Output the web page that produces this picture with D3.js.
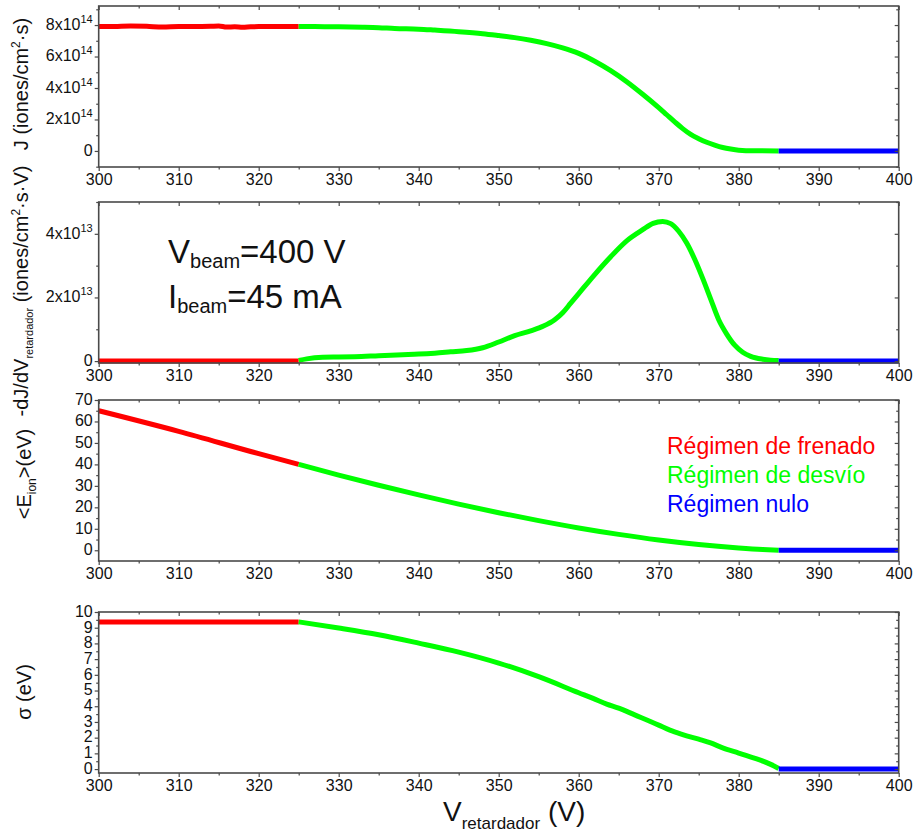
<!DOCTYPE html>
<html>
<head>
<meta charset="utf-8">
<script src="https://cdn.jsdelivr.net/npm/d3@7"></script>
<style>
  html, body { margin: 0; padding: 0; background: #fff; }
  svg { display: block; font-family: "Liberation Sans", Arial, Helvetica, sans-serif; }
</style>
</head>
<body>
<svg id="chart" width="918" height="834"></svg>
<script>
// ---- Shared x axis (retarding voltage, V) ----
const xMajorTicks = [300, 310, 320, 330, 340, 350, 360, 370, 380, 390, 400];
const xMinorTicks = [305, 315, 325, 335, 345, 355, 365, 375, 385, 395];

// ---- Panel 1: ion current density J (units of 1e14 iones/cm^2·s) ----
const jFrenado = [[300,7.9],[302,7.91],[304,7.94],[306,7.92],[308,7.87],[310,7.9],[312,7.9],[314,7.92],[315,7.94],[316,7.87],[317,7.89],[318,7.86],[319,7.89],[320,7.9],[322,7.9],[325,7.91]];
const jDesvio = [[325,7.91],[327,7.9],[330,7.89],[333,7.86],[335,7.83],[337,7.78],[340,7.74],[342,7.68],[345,7.58],[348,7.45],[350,7.33],[352,7.2],[354,7.03],[356,6.82],[358,6.55],[360,6.2],[362,5.7],[364,5.1],[366,4.4],[368,3.6],[370,2.75],[371,2.3],[372,1.85],[373,1.42],[374,1.05],[375,0.78],[376,0.55],[377,0.37],[378,0.22],[379,0.12],[380,0.05],[382,0.01],[385,0]];
const jNulo = [[385,0],[400,0]];
const jTicks = [0, 2, 4, 6, 8];
const jMinor = [-1, 1, 3, 5, 7, 9];

// ---- Panel 2: -dJ/dV (units of 1e13 iones/cm^2·s·V) ----
const dFrenado = [[300,0],[325,0]];
const dDesvio = [[325,0.02],[326,0.07],[328,0.12],[330,0.13],[332,0.14],[335,0.17],[338,0.2],[340,0.22],[342,0.25],[344,0.29],[346,0.33],[348,0.42],[350,0.6],[352,0.8],[354,0.95],[355.6,1.1],[357,1.3],[358,1.52],[359,1.82],[360,2.12],[362,2.72],[364,3.28],[366,3.78],[368,4.13],[369.3,4.33],[370.5,4.39],[371.5,4.32],[372.5,4.08],[373.5,3.71],[374.5,3.2],[375.5,2.6],[376.5,1.95],[377.5,1.3],[378.5,0.85],[379.5,0.5],[380.5,0.28],[381.5,0.15],[383,0.06],[384,0.03],[385,0.02]];
const dNulo = [[385,0],[400,0]];
const dTicks = [0, 2, 4];
const dMinor = [1, 3, 5];

// ---- Panel 3: mean ion energy <E_ion> (eV) ----
const eFrenado = [[300,65],[310,55.4],[320,45],[325,40]];
const eDesvio = [[325,40],[330,35],[335,30.3],[340,25.8],[345,21.5],[350,17.5],[355,13.8],[360,10.4],[365,7.4],[370,4.8],[375,2.7],[380,1.1],[383,0.35],[385,0]];
const eNulo = [[385,0],[400,0]];
const eTicks = [0, 10, 20, 30, 40, 50, 60, 70];
const eMinor = [5, 15, 25, 35, 45, 55, 65];

// ---- Panel 4: energy spread sigma (eV) ----
const sFrenado = [[300,9.37],[325,9.37]];
const sDesvio = [[325,9.37],[330,8.98],[335,8.55],[340,8.02],[345,7.45],[350,6.75],[355,5.88],[360,4.86],[361.8,4.5],[363.5,4.14],[365,3.88],[367,3.45],[370,2.8],[371.4,2.48],[373,2.2],[375,1.9],[376.4,1.68],[378,1.35],[380,1.02],[381,0.85],[382.7,0.57],[384,0.3],[385,0.04]];
const sNulo = [[385,0],[400,0]];
const sTicks = [0, 1, 2, 3, 4, 5, 6, 7, 8, 9, 10];
const sMinor = [0.5, 1.5, 2.5, 3.5, 4.5, 5.5, 6.5, 7.5, 8.5, 9.5];

// ---- Regime names and colours ----
const regimes = ["Régimen de frenado", "Régimen de desvío", "Régimen nulo"];
const regimeColors = ["#ff0000", "#00ff00", "#0000ff"];

const svg = d3.select("#chart");
const x = d3.scaleLinear().domain([300, 400]).range([98.7, 898.7]);
const axisColor = "#4a4a4a";

const panels = [
  { top: 6,   bottom: 167, domain: [-1.02, 9.21], ticks: jTicks, minor: jMinor, exp: "14",
    series: [jFrenado, jDesvio, jNulo], curve: d3.curveMonotoneX,
    titleX: 28, titleY: 84,
    title: [{t: "J (iones/cm"}, {t: "2", size: 12, dy: -8}, {t: "·s)", dy: 8}] },
  { top: 202, bottom: 363, domain: [-0.06, 5.0], ticks: dTicks, minor: dMinor, exp: "13",
    series: [dFrenado, dDesvio, dNulo], curve: d3.curveMonotoneX,
    titleX: 28, titleY: 291,
    title: [{t: "-dJ/dV"}, {t: "retardador", size: 11, dy: 5}, {t: " (iones/cm", dy: -5}, {t: "2", size: 12, dy: -8}, {t: "·s·V)", dy: 8}] },
  { top: 400, bottom: 561, domain: [-5, 70], ticks: eTicks, minor: eMinor, exp: null,
    series: [eFrenado, eDesvio, eNulo], curve: d3.curveMonotoneX,
    titleX: 31, titleY: 474,
    title: [{t: "<E"}, {t: "ion", size: 12, dy: 5}, {t: ">(eV)", dy: -5}] },
  { top: 612, bottom: 773, domain: [-0.25, 10], ticks: sTicks, minor: sMinor, exp: null,
    series: [sFrenado, sDesvio, sNulo], curve: d3.curveMonotoneX,
    titleX: 31, titleY: 692,
    title: [{t: "σ (eV)"}] }
];

// Append a text element built from styled pieces (sub/superscripts via dy)
function richText(sel, parts, baseSize) {
  parts.forEach(p => {
    const ts = sel.append("tspan").text(p.t).attr("font-size", p.size || baseSize);
    if (p.dy) ts.attr("dy", p.dy);
  });
  return sel;
}

panels.forEach(p => {
  const y = d3.scaleLinear().domain(p.domain).range([p.bottom, p.top]);
  const g = svg.append("g");

  // data lines, one colour per regime
  const line = d3.line().x(d => x(d[0])).y(d => y(d[1])).curve(p.curve);
  p.series.forEach((s, i) => {
    g.append("path")
      .datum(s)
      .attr("d", line)
      .attr("fill", "none")
      .attr("stroke", regimeColors[i])
      .attr("stroke-width", 5)
      .attr("stroke-linejoin", "round");
  });

  // bottom axis: outward major + minor ticks and labels
  const bottomAx = g.append("g").attr("transform", `translate(0,${p.bottom})`)
    .call(d3.axisBottom(x).tickValues(xMajorTicks).tickSize(4).tickSizeOuter(0).tickPadding(3).tickFormat(d3.format("d")));
  g.append("g").attr("transform", `translate(0,${p.bottom})`)
    .call(d3.axisBottom(x).tickValues(xMinorTicks).tickSize(2.5).tickSizeOuter(0).tickFormat(""));
  bottomAx.selectAll("text").attr("font-size", 16).attr("fill", "#111").attr("font-family", "Liberation Sans, Arial, sans-serif");

  // top axis: inward ticks
  g.append("g").attr("transform", `translate(0,${p.top})`)
    .call(d3.axisTop(x).tickValues(xMajorTicks).tickSize(-4).tickSizeOuter(0).tickFormat(""));
  g.append("g").attr("transform", `translate(0,${p.top})`)
    .call(d3.axisTop(x).tickValues(xMinorTicks).tickSize(-2.5).tickSizeOuter(0).tickFormat(""));

  // left axis: outward ticks, custom labels
  g.append("g").attr("transform", `translate(${x.range()[0]},0)`)
    .call(d3.axisLeft(y).tickValues(p.ticks).tickSize(4).tickSizeOuter(0).tickFormat(""));
  g.append("g").attr("transform", `translate(${x.range()[0]},0)`)
    .call(d3.axisLeft(y).tickValues(p.minor).tickSize(2.5).tickSizeOuter(0).tickFormat(""));

  // right axis: inward ticks
  g.append("g").attr("transform", `translate(${x.range()[1]},0)`)
    .call(d3.axisRight(y).tickValues(p.ticks).tickSize(-4).tickSizeOuter(0).tickFormat(""));
  g.append("g").attr("transform", `translate(${x.range()[1]},0)`)
    .call(d3.axisRight(y).tickValues(p.minor).tickSize(-2.5).tickSizeOuter(0).tickFormat(""));

  g.selectAll(".domain").remove();
  g.selectAll(".tick line").attr("stroke", axisColor).attr("stroke-width", 1.2);

  // frame
  g.append("rect")
    .attr("x", x.range()[0]).attr("y", p.top)
    .attr("width", x.range()[1] - x.range()[0]).attr("height", p.bottom - p.top)
    .attr("fill", "none").attr("stroke", axisColor).attr("stroke-width", 1.6);

  // y tick labels (with powers of ten where needed)
  p.ticks.forEach(v => {
    const t = g.append("text")
      .attr("x", x.range()[0] - 6).attr("y", y(v)).attr("dy", "0.3em")
      .attr("text-anchor", "end").attr("font-size", 16).attr("fill", "#111");
    if (p.exp && v !== 0) {
      t.append("tspan").text(v + "x10");
      t.append("tspan").text(p.exp).attr("font-size", 11).attr("dy", -7);
    } else {
      t.text(v);
    }
  });

  // y axis title
  const tt = svg.append("text")
    .attr("transform", `translate(${p.titleX},${p.titleY}) rotate(-90)`)
    .attr("text-anchor", "middle").attr("fill", "#111");
  richText(tt, p.title, 20);
});

// beam conditions
const beamInfo = [
  [{t: "V"}, {t: "beam", size: 20, dy: 5}, {t: "=400 V", dy: -5}],
  [{t: "I"}, {t: "beam", size: 20, dy: 5}, {t: "=45 mA", dy: -5}]
];
beamInfo.forEach((parts, i) => {
  const t = svg.append("text").attr("x", 168).attr("y", 263 + i * 45).attr("fill", "#111");
  richText(t, parts, 33);
});

// regime legend
regimes.forEach((name, i) => {
  svg.append("text")
    .attr("x", 667).attr("y", 454 + i * 29)
    .attr("font-size", 23).attr("fill", regimeColors[i])
    .text(name);
});

// x axis title
const xt = svg.append("text").attr("x", 443).attr("y", 821).attr("fill", "#111");
richText(xt, [{t: "V"}, {t: "retardador", size: 17, dy: 8}, {t: " (V)", dy: -8}], 28);
</script>
</body>
</html>
